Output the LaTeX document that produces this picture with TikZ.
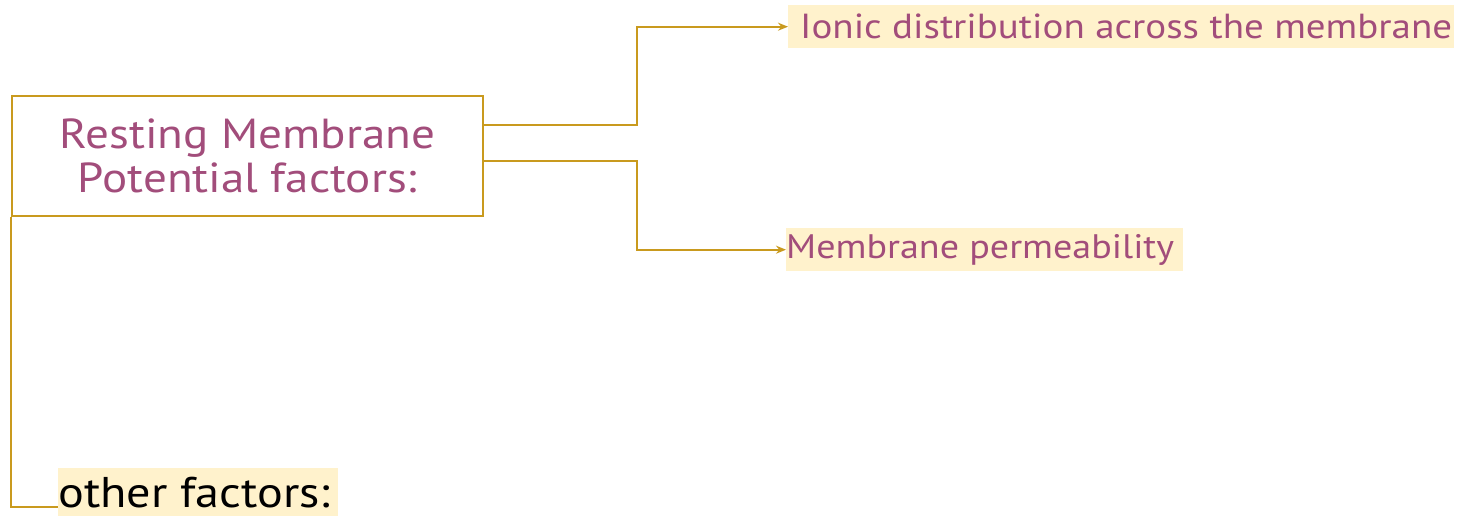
\documentclass[tikz,border=0pt]{standalone}
\usepackage{fontspec}
\setmainfont[FakeStretch=1.12]{PT Sans}
\usetikzlibrary{arrows.meta,calc}
\definecolor{gold}{HTML}{C99A1E}
\definecolor{mauve}{HTML}{A24D7B}
\definecolor{hl}{HTML}{FFF2CC}
\tikzset{
  conn/.style={draw=gold, line width=2pt},
  hlbox/.style={fill=hl, anchor=north west, inner ysep=0pt, inner xsep=0pt},
}
\begin{document}
\begin{tikzpicture}[x=1pt,y=-1pt]
\useasboundingbox (0,0) rectangle (1458,518);
\node[draw=gold, line width=2pt, minimum width=471pt, minimum height=120pt, anchor=north west,
      align=center, text=mauve, font=\fontsize{42}{48}\selectfont] (main) at (11,95)
      {\raisebox{-4pt}{\shortstack{Resting Membrane\\[2pt]Potential factors:}}};
\node[hlbox, minimum height=43pt, text=mauve, font=\fontsize{34.8}{40}\selectfont] (lab1) at (788,5)
      {\makebox[666pt][l]{\hspace{12pt}Ionic distribution across the membrane}};
\node[hlbox, minimum height=43pt, text=mauve, font=\fontsize{34}{40}\selectfont] (lab2) at (786,228)
      {\makebox[397pt][l]{Membrane permeability}};
\node[hlbox, minimum height=48pt, text=black, font=\fontsize{43}{48}\selectfont] (lab3) at (58,468)
      {\makebox[280pt][l]{other factors:}};
\draw[conn,-{Stealth[length=10pt,width=8pt]}] ($(main.north east)+(0,30)$) -- ++(153,0) |- (lab1.west);
\draw[conn,-{Stealth[length=10pt,width=8pt]}] ($(main.north east)+(0,66)$) -- ++(153,0) |- (lab2.west);
\draw[conn] (main.south west) |- ($(lab3.south west)+(0,-9)$);
\end{tikzpicture}
\end{document}
